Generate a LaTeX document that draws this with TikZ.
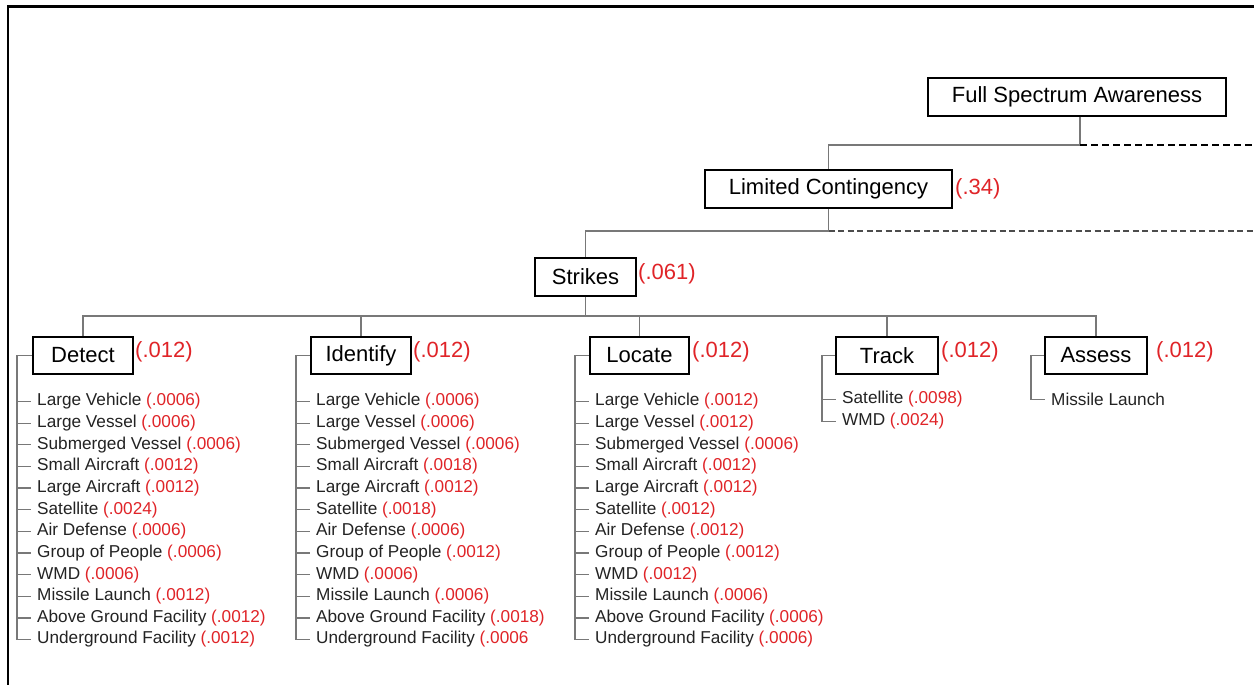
\documentclass[tikz,border=0pt]{standalone}
\usepackage{fontspec}
\setmainfont{Liberation Sans}
\definecolor{nred}{RGB}{224,36,40}
\definecolor{conncol}{RGB}{120,120,120}
\definecolor{leaftext}{RGB}{35,35,35}
\newcommand{\rn}[1]{\textcolor{nred}{#1}}
\begin{document}
\begin{tikzpicture}[x=1pt,y=-1pt,
  box/.style={draw=black, line width=1.8pt, fill=white, inner sep=0pt, minimum height=37.5pt, font=\fontsize{22}{26}\selectfont},
  lbl/.style={text=nred, anchor=west, inner sep=0pt, font=\fontsize{22}{26}\selectfont},
  leaf/.style={anchor=west, inner sep=0pt, text=leaftext, font=\fontsize{17.2}{20}\selectfont},
  conn/.style={draw=conncol, line width=1.2pt},
  dashA/.style={draw=black, line width=1.8pt, dash pattern=on 7pt off 4pt},
  dashB/.style={draw=black!70, line width=1.3pt, dash pattern=on 6pt off 3.5pt},
  frame/.style={draw=black, line width=2.2pt}]
\useasboundingbox (0,0) rectangle (1254,685);
\fill[white] (0,0) rectangle (1254,685);
\draw[frame] (8,685) -- (8,6.5) -- (1254,6.5);

% main boxes
\node[box, minimum width=298pt] (fsa) at (1077,97) {Full Spectrum Awareness};
\node[box, minimum width=247pt] (lc) at (828.5,189) {Limited Contingency};
\node[lbl] (lcv) at (955,189) {(.34)};
\node[box, minimum width=101pt] (str) at (585.5,277) {Strikes};
\node[lbl] (strv) at (638,274) {(.061)};

\node[box, minimum width=100pt] (det) at (83,355.5) {Detect};
\node[lbl] (detv) at (135,352) {(.012)};
\node[box, minimum width=100pt] (idf) at (361,355.5) {Identify};
\node[lbl] (idfv) at (413,352) {(.012)};
\node[box, minimum width=99pt] (loc) at (639.5,355.5) {Locate};
\node[lbl] (locv) at (692,352) {(.012)};
\node[box, minimum width=102pt] (trk) at (887,355.5) {Track};
\node[lbl] (trkv) at (941,352) {(.012)};
\node[box, minimum width=102pt] (ass) at (1096,355.5) {Assess};
\node[lbl] (assv) at (1156,352) {(.012)};

% tree connectors
\coordinate (j1) at (1080,145);
\coordinate (e1) at (1254,145);
\coordinate (j2) at (828.5,231);
\coordinate (e2) at (1254,231);
\coordinate (j3) at (585.5,316);
\draw[conn] (fsa.south -| j1) -- (j1) -| (lc.north);
\draw[dashA] (j1) -- (e1);
\draw[conn] (lc.south) -- (j2) -| (str.north);
\draw[dashB] (j2) -- (e2);
\draw[conn] (str.south) -- (j3);
\draw[conn] (det.north) |- (ass.north |- j3) -- (ass.north);
\draw[conn] (idf.north) -- (idf.north |- j3);
\draw[conn] (loc.north) -- (loc.north |- j3);
\draw[conn] (trk.north) -- (trk.north |- j3);

% Detect leaves
\foreach \t [count=\i] in {
  {Large Vehicle \rn{(.0006)}},
  {Large Vessel \rn{(.0006)}},
  {Submerged Vessel \rn{(.0006)}},
  {Small Aircraft \rn{(.0012)}},
  {Large Aircraft \rn{(.0012)}},
  {Satellite \rn{(.0024)}},
  {Air Defense \rn{(.0006)}},
  {Group of People \rn{(.0006)}},
  {WMD \rn{(.0006)}},
  {Missile Launch \rn{(.0012)}},
  {Above Ground Facility \rn{(.0012)}},
  {Underground Facility \rn{(.0012)}}}
  {\node[leaf] (d\i) at (37,{401.5+(\i-1)*21.64}) {\t};}
\coordinate (dL) at (17,355.5);
\draw[conn] (det.west) -- (dL) |- ([xshift=-6pt]d12.west);
\foreach \i in {1,...,11} {\draw[conn] (d\i.west -| dL) -- ([xshift=-6pt]d\i.west);}

% Identify leaves
\foreach \t [count=\i] in {
  {Large Vehicle \rn{(.0006)}},
  {Large Vessel \rn{(.0006)}},
  {Submerged Vessel \rn{(.0006)}},
  {Small Aircraft \rn{(.0018)}},
  {Large Aircraft \rn{(.0012)}},
  {Satellite \rn{(.0018)}},
  {Air Defense \rn{(.0006)}},
  {Group of People \rn{(.0012)}},
  {WMD \rn{(.0006)}},
  {Missile Launch \rn{(.0006)}},
  {Above Ground Facility \rn{(.0018)}},
  {Underground Facility \rn{(.0006}}}
  {\node[leaf] (i\i) at (316,{401.5+(\i-1)*21.64}) {\t};}
\coordinate (iL) at (296,355.5);
\draw[conn] (idf.west) -- (iL) |- ([xshift=-6pt]i12.west);
\foreach \i in {1,...,11} {\draw[conn] (i\i.west -| iL) -- ([xshift=-6pt]i\i.west);}

% Locate leaves
\foreach \t [count=\i] in {
  {Large Vehicle \rn{(.0012)}},
  {Large Vessel \rn{(.0012)}},
  {Submerged Vessel \rn{(.0006)}},
  {Small Aircraft \rn{(.0012)}},
  {Large Aircraft \rn{(.0012)}},
  {Satellite \rn{(.0012)}},
  {Air Defense \rn{(.0012)}},
  {Group of People \rn{(.0012)}},
  {WMD \rn{(.0012)}},
  {Missile Launch \rn{(.0006)}},
  {Above Ground Facility \rn{(.0006)}},
  {Underground Facility \rn{(.0006)}}}
  {\node[leaf] (l\i) at (595,{401.5+(\i-1)*21.64}) {\t};}
\coordinate (lL) at (575,355.5);
\draw[conn] (loc.west) -- (lL) |- ([xshift=-6pt]l12.west);
\foreach \i in {1,...,11} {\draw[conn] (l\i.west -| lL) -- ([xshift=-6pt]l\i.west);}

% Track leaves
\node[leaf] (t1) at (842,399.5) {Satellite \rn{(.0098)}};
\node[leaf] (t2) at (842,421.5) {WMD \rn{(.0024)}};
\coordinate (tL) at (822,355.5);
\draw[conn] (trk.west) -- (tL) |- ([xshift=-6pt]t2.west);
\draw[conn] (t1.west -| tL) -- ([xshift=-6pt]t1.west);

% Assess leaves
\node[leaf] (a1) at (1051,399.5) {Missile Launch};
\coordinate (aL) at (1031,355.5);
\draw[conn] (ass.west) -- (aL) |- ([xshift=-6pt]a1.west);
\end{tikzpicture}
\end{document}
